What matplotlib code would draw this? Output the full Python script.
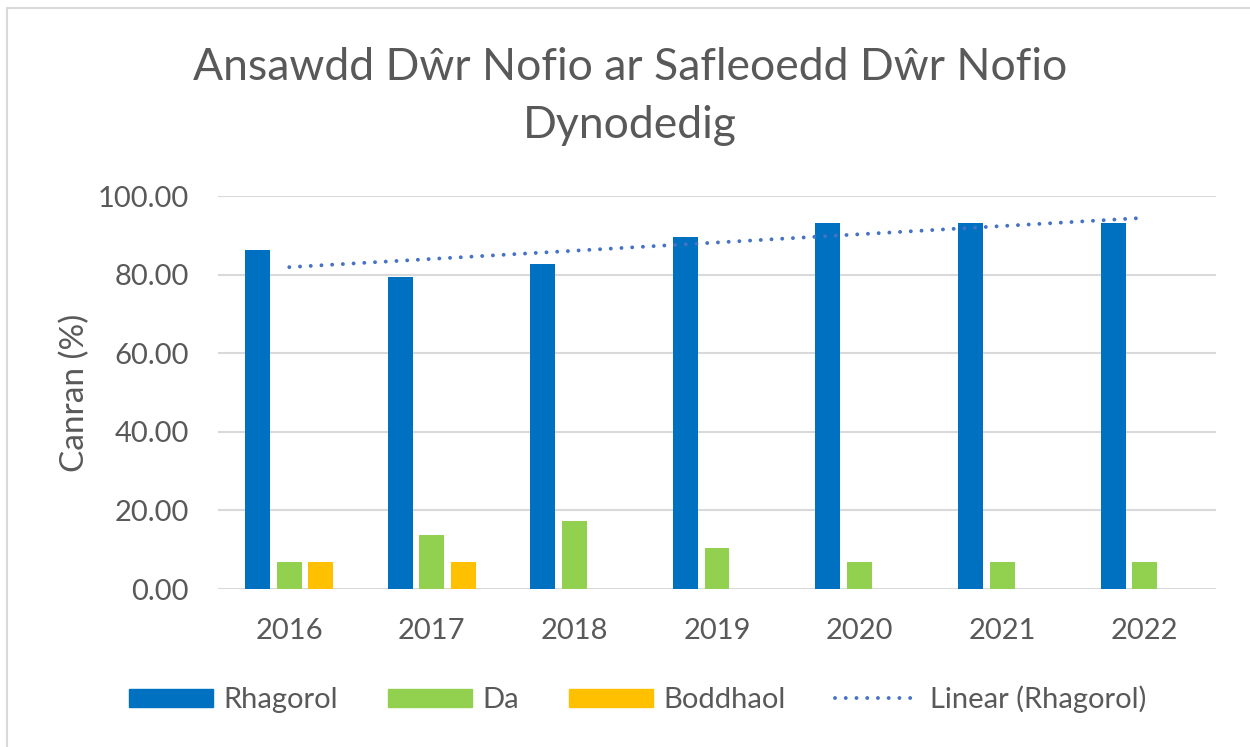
import numpy as np
import matplotlib
matplotlib.use('Agg')
import matplotlib.pyplot as plt
from matplotlib.patches import Patch, Rectangle
from matplotlib.lines import Line2D

# Blynyddoedd a chanrannau safleoedd ym mhob dosbarth
blynyddoedd = ['2016', '2017', '2018', '2019', '2020', '2021', '2022']
rhagorol = [86.21, 79.31, 82.76, 89.66, 93.10, 93.10, 93.10]
da = [6.90, 13.79, 17.24, 10.34, 6.90, 6.90, 6.90]
boddhaol = [6.90, 6.90, 0.00, 0.00, 0.00, 0.00, 0.00]

GLAS = '#0070C0'
GWYRDD = '#92D050'
MELYN = '#FFC000'
TUEDD = '#4472C4'
TESTUN = '#595959'
GRID = '#D9D9D9'

plt.rcParams['font.family'] = ['Lato', 'DejaVu Sans']

fig = plt.figure(figsize=(12.5, 7.47), dpi=100)
ax = fig.add_axes([0.1744, 0.2115, 0.7984, 0.5261])

x = np.arange(len(blynyddoedd))
lled = 0.175
cam = 0.222
ax.bar(x - cam, rhagorol, lled, color=GLAS, zorder=3)
ax.bar(x, da, lled, color=GWYRDD, zorder=3)
ax.bar(x + cam, boddhaol, lled, color=MELYN, zorder=3)

# llinell duedd linol ar gyfer Rhagorol
m, c = np.polyfit(x, rhagorol, 1)
ax.plot(x, m * x + c, color=TUEDD, lw=2.8, linestyle=(0, (0.01, 2.75)),
        dash_capstyle='round', zorder=4)

ax.set_xlim(-0.5, len(blynyddoedd) - 0.5)
ax.set_ylim(0, 100)
ax.set_yticks(np.arange(0, 101, 20))
ax.set_yticklabels([f'{v:.2f}' for v in np.arange(0, 101, 20)])
ax.set_xticks(x)
ax.set_xticklabels(blynyddoedd)
ax.tick_params(axis='both', length=0, labelsize=21, labelcolor=TESTUN)
ax.tick_params(axis='x', pad=21)
ax.tick_params(axis='y', pad=21)
ax.grid(axis='y', color=GRID, lw=1.5, zorder=0)
for s in ax.spines.values():
    s.set_visible(False)

ax.set_ylabel('Canran (%)', fontsize=24, color=TESTUN)
ax.yaxis.set_label_coords(-0.128, 0.5)

fig.text(0.504, 0.937, 'Ansawdd Dŵr Nofio ar Safleoedd Dŵr Nofio\nDynodedig',
         ha='center', va='top', fontsize=32, color=TESTUN, linespacing=1.5)

handles = [Patch(color=GLAS), Patch(color=GWYRDD), Patch(color=MELYN),
           Line2D([], [], color=TUEDD, lw=2.8, linestyle=(0, (0.01, 2.75)),
                  dash_capstyle='round')]
labels = ['Rhagorol', 'Da', 'Boddhaol', 'Linear (Rhagorol)']
fig.legend(handles, labels, loc='center', bbox_to_anchor=(0.51, 0.064), ncol=4,
           frameon=False, fontsize=21, labelcolor=TESTUN, handlelength=2.9,
           handleheight=0.57, handletextpad=0.35, columnspacing=1.7)

# ffin y siart
fig.add_artist(Rectangle((7 / 1250, -0.1), 1.1, 0.1 + 1 - 8 / 747,
                         transform=fig.transFigure, fill=False,
                         edgecolor=GRID, lw=1.5))

fig.savefig('out.png', dpi=100)
